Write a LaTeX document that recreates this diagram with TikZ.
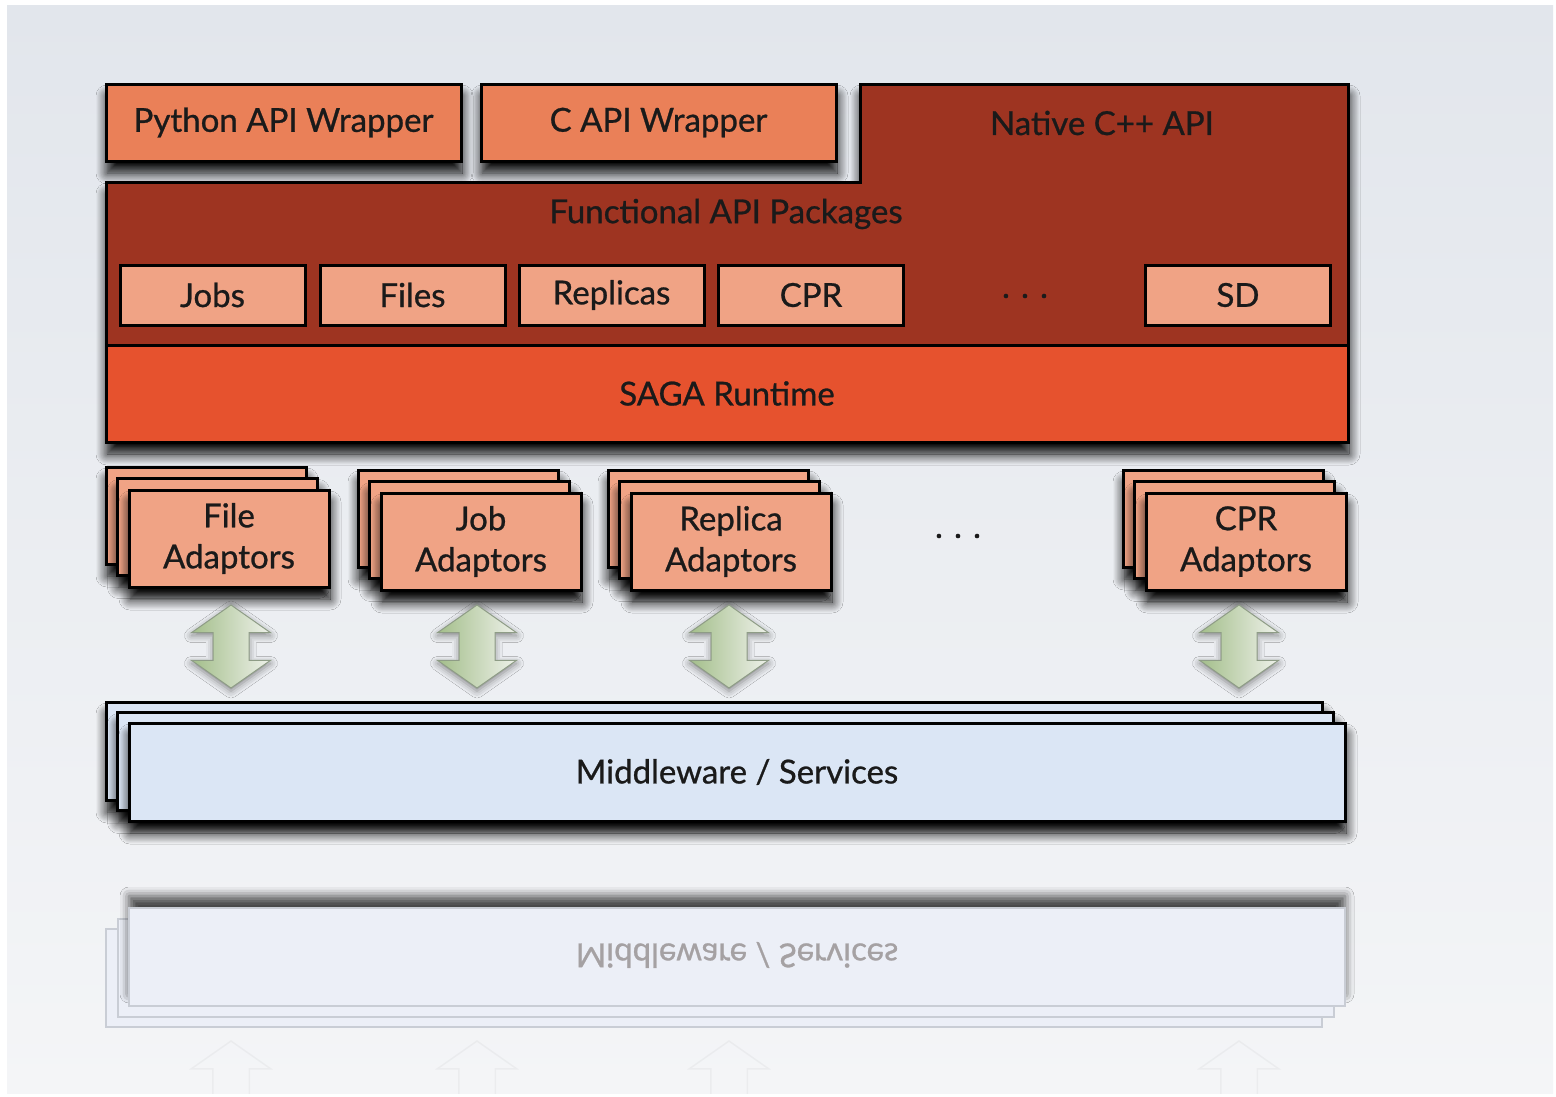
\documentclass[tikz,border=0pt]{standalone}
\usepackage{fontspec}
\setmainfont{Lato}[FakeBold=0.8]
\usetikzlibrary{shapes.arrows,shadows.blur,calc}

\definecolor{bgtop}{HTML}{E2E6EC}
\definecolor{bgbot}{HTML}{F4F5F7}
\definecolor{wrapfill}{HTML}{EA8058}
\definecolor{apidark}{HTML}{9E3421}
\definecolor{runfill}{HTML}{E6522E}
\definecolor{pkgfill}{HTML}{F0A385}
\definecolor{mwfill}{HTML}{DBE6F5}
\definecolor{arrtop}{HTML}{EEF1EA}
\definecolor{arrbot}{HTML}{A3BE8A}
\definecolor{arredge}{HTML}{8E9C86}
\definecolor{inktext}{HTML}{1A1A1A}
\definecolor{reflline}{HTML}{C9CDD5}
\definecolor{reflfill}{HTML}{ECEFF7}
\definecolor{refltext}{HTML}{A5A1A3}

\tikzset{
  shd/.style={blur shadow={shadow xshift=1pt, shadow yshift=-12pt,
      shadow blur radius=11pt, shadow opacity=100, shadow blur steps=14}},
  txt/.style={text=inktext, font=\fontsize{33}{41}\selectfont},
  box/.style={draw=black, line width=3pt, line join=miter, inner sep=0pt,
      align=center, txt},
  wrapbox/.style={box, fill=wrapfill, minimum width=355pt, minimum height=77pt, shd},
  pkgbox/.style={box, fill=pkgfill, minimum width=185pt, minimum height=60pt},
  adbox/.style={box, fill=pkgfill, minimum width=200pt, minimum height=97pt, shd},
  mwbox/.style={box, fill=mwfill, minimum width=1216pt, minimum height=98pt, shd},
  reflbox/.style={draw=reflline, line width=2pt, fill=reflfill, inner sep=0pt,
      minimum width=1216pt, minimum height=98pt},
  arrgeom/.style={double arrow, rotate=90, inner xsep=0pt, inner ysep=17.5pt,
      minimum height=83pt, minimum width=78pt,
      double arrow head extend=21.5pt, double arrow tip angle=110},
  dblarr/.style={arrgeom, draw=arredge, line width=1pt,
      left color=arrbot, right color=arrtop,
      blur shadow={shadow xshift=0pt, shadow yshift=-3pt,
        shadow blur radius=7pt, shadow opacity=45}},
  reflarr/.style={arrgeom, draw=black!50, draw opacity=0.07, line width=1.5pt},
}

\begin{document}
\begin{tikzpicture}[x=1pt,y=-1pt]
\useasboundingbox (0,0) rectangle (1556,1096);
% page background
\fill[white] (0,0) rectangle (1556,1096);
\fill[top color=bgtop, bottom color=bgbot] (7,5) rectangle (1553,1093);

% language wrappers
\node[wrapbox] (py) at (283.5,122.5) {Python API Wrapper};
\node[wrapbox] (capi) at (658.5,122.5) {C API Wrapper};

% native API with functional packages, and the runtime below
\draw[line width=3pt, line join=miter, fill=apidark, shd]
  (106,182) -- (860,182) -- (860,84) -- (1348,84) -- (1348,442) -- (106,442) -- cycle;
\node[box, fill=runfill, minimum width=1242pt, minimum height=97pt]
  (rt) at (727,393.5) {SAGA Runtime};
\node[txt] (native) at (1102,123) {Native C++ API};
\node[txt] (func) at (726,214) {Functional API Packages};

\node[pkgbox] (jobs) at (212.5,295) {Jobs};
\node[pkgbox] (files) at (412.5,295) {Files};
\node[pkgbox] (repl) at (611.5,295) {Replicas};
\node[pkgbox] (cpr) at (811,295) {CPR};
\node[txt] (pdots) at (1025,296) {. . .};
\node[pkgbox] (sd) at (1238,295) {SD};

% adaptor stacks
\foreach \n/\x/\y/\t in {file/106/467/File, job/358/470/Job,
                         rep/608/470/Replica, cprad/1123/470/CPR} {
  \node[adbox] (\n B) at (\x+100,\y+48.5) {};
  \node[adbox] (\n M) at (\x+111.5,\y+60) {};
  \node[adbox] (\n F) at (\x+123,\y+71.5) {\t\\Adaptors};
}
\node[txt] (adots) at (958,536) {. . .};

% middleware stack
\node[mwbox] (mwB) at (714,751) {};
\node[mwbox] (mwM) at (725.5,761.5) {};
\node[mwbox] (mwF) at (737,772) {Middleware / Services};

% adaptor <-> middleware links
\node[dblarr] (a1) at (231,646.5) {};
\node[dblarr] (a2) at (477,646.5) {};
\node[dblarr] (a3) at (729,646.5) {};
\node[dblarr] (a4) at (1239,646.5) {};

% mirrored reflection under the middleware
\begin{scope}
  \clip (7,5) rectangle (1553,1093);
  \node[reflbox] (rB) at (714,978) {};
  \node[reflbox] (rM) at (725.5,967.5) {};
  \node[reflbox, blur shadow={shadow xshift=0pt, shadow yshift=12pt,
      shadow blur radius=9pt, shadow opacity=70}] (rF) at (737,957) {};
  \node[font=\fontsize{33}{41}\selectfont, text=refltext] (rT) at (737,955)
    {\scalebox{1}[-1]{Middleware / Services}};
  \foreach \ax in {231,477,729,1239}
    \node[reflarr] at (\ax,1082.5) {};
\end{scope}
\end{tikzpicture}
\end{document}
